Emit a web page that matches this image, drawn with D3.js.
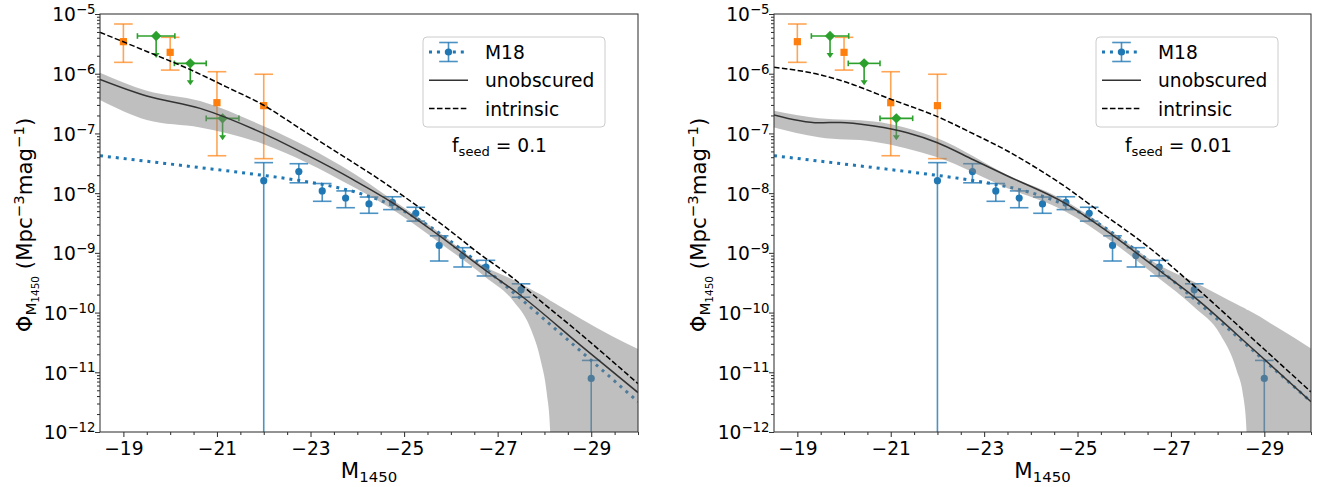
<!DOCTYPE html>
<html><head><meta charset="utf-8">
<script src="https://cdn.jsdelivr.net/npm/d3@7"></script>
<style>body{margin:0;background:#fff} text{font-family:"DejaVu Sans",sans-serif;fill:#000}</style>
</head><body><svg id="c" width="1333" height="487"></svg>
<script>
// ---------- tick labels ----------
const xTickVals = [-19, -21, -23, -25, -27, -29];
const yTickExps = [-5, -6, -7, -8, -9, -10, -11, -12];

// ---------- observational points (same in both panels) ----------
const orangeM = [-19.0, -20.0, -21.0, -22.0];
const orangePhi = [3.44e-6, 2.28e-6, 3.27e-7, 2.92e-7];
const orangeHi = [6.8e-6, 4.07e-6, 1.08e-6, 9.8e-7];
const orangeLo = [1.55e-6, 1.15e-6, 4.23e-8, 3.78e-8];

const greenM = [-19.70, -20.43, -21.12];
const greenPhi = [4.28e-6, 1.49e-6, 1.79e-7];
const greenXerr = [0.40, 0.34, 0.35];
const greenLimit = [1.83e-6, 6.38e-7, 7.66e-8];

const m18M = [-22.0, -22.75, -23.25, -23.75, -24.25, -24.75, -25.25, -25.75, -26.25, -26.75, -27.5, -29.0];
const m18Phi = [16.2e-9, 23.0e-9, 10.9e-9, 8.3e-9, 6.6e-9, 7.0e-9, 4.6e-9, 1.33e-9, 0.90e-9, 0.58e-9, 0.242e-9, 0.0079e-9];
const m18Err = [16.2e-9, 8.1e-9, 3.6e-9, 2.6e-9, 2.0e-9, 1.7e-9, 1.2e-9, 0.60e-9, 0.32e-9, 0.17e-9, 0.061e-9, 0.0079e-9];

const m18FitM = [-18.5, -19.5, -20.5, -21.5, -22.5, -23.0, -23.5, -24.0, -24.5, -25.0, -25.5, -26.0, -26.5, -27.0, -27.5, -28.0, -28.5, -29.0, -29.5, -30.0];
const m18FitPhi = [4.23e-8, 3.42e-8, 2.76e-8, 2.22e-8, 1.75e-8, 1.52e-8, 1.28e-8, 1.02e-8, 7.53e-9, 4.97e-9, 2.92e-9, 1.55e-9, 7.67e-10, 3.64e-10, 1.68e-10, 7.69e-11, 3.49e-11, 1.58e-11, 7.14e-12, 3.22e-12];

// ---------- model, f_seed = 0.1 ----------
const bandM01 = [-18.5, -19.5, -20.64, -21.99, -22.92, -23.9, -24.6, -25.73, -26.73, -27.33, -27.69, -27.92, -28.05, -28.12, -28.15, -28.76, -29.47, -30.0];
const bandHi01 = [1.04e-6, 5.20e-7, 3.49e-7, 1.33e-7, 6.00e-8, 2.19e-8, 9.33e-9, 2.26e-9, 5.86e-10, 3.55e-10, 2.51e-10, 2.00e-10, 1.73e-10, 1.60e-10, 1.55e-10, 8.00e-11, 3.94e-11, 2.45e-11];
const bandLo01 = [3.63e-7, 1.68e-7, 1.26e-7, 6.65e-8, 3.24e-8, 1.29e-8, 6.31e-9, 1.54e-9, 3.98e-10, 1.58e-10, 5.75e-11, 1.58e-11, 4.47e-12, 1.12e-12, 1e-13, 1e-13, 1e-13, 1e-13];
const unobsM01 = [-18.5, -19.5, -20.64, -21.99, -22.92, -23.9, -24.73, -25.73, -26.73, -27.48, -28.76, -30.0];
const unobsPhi01 = [8.05e-7, 4.24e-7, 2.63e-7, 1.00e-7, 4.36e-8, 1.70e-8, 7.08e-9, 2.00e-9, 5.16e-10, 1.97e-10, 2.88e-11, 4.57e-12];
const intrM01 = [-18.5, -19.5, -20.42, -21.2, -21.99, -22.78, -23.49, -24.49, -25.3, -26.0, -26.55, -27.34, -28.0, -28.76, -29.4, -30.0];
const intrPhi01 = [4.93e-6, 2.36e-6, 1.18e-6, 6.03e-7, 2.99e-7, 1.20e-7, 5.27e-8, 1.66e-8, 5.93e-9, 2.29e-9, 1.05e-9, 3.72e-10, 1.38e-10, 4.47e-11, 1.66e-11, 6.46e-12];

// ---------- model, f_seed = 0.01 ----------
const bandM001 = [-18.5, -19.46, -20.64, -22.0, -23.5, -24.71, -25.74, -26.74, -27.49, -28.06, -28.4, -28.56, -28.62, -28.66, -29.3, -30.0];
const bandHi001 = [2.40e-7, 1.79e-7, 1.58e-7, 8.28e-8, 2.01e-8, 7.67e-9, 2.26e-9, 6.25e-10, 3.29e-10, 1.92e-10, 1.39e-10, 1.20e-10, 1.13e-10, 1.09e-10, 5.50e-11, 2.51e-11];
const bandLo001 = [1.26e-7, 8.61e-8, 7.28e-8, 3.98e-8, 1.21e-8, 5.08e-9, 1.54e-9, 3.74e-10, 1.25e-10, 4.27e-11, 1.12e-11, 3.55e-12, 1.0e-12, 1e-13, 1e-13, 1e-13];
const unobsM001 = [-18.5, -19.46, -19.93, -20.64, -21.355, -22.0, -22.78, -23.5, -24.71, -25.74, -26.74, -27.49, -28.78, -30.0];
const unobsPhi001 = [2.04e-7, 1.51e-7, 1.53e-7, 1.33e-7, 1.03e-7, 7.00e-8, 3.59e-8, 1.94e-8, 6.92e-9, 2.00e-9, 5.16e-10, 1.85e-10, 2.36e-11, 3.21e-12];
const intrM001 = [-18.5, -19.5, -20.0, -20.99, -22.0, -22.78, -23.5, -24.21, -24.71, -25.28, -26.64, -27.49, -28.78, -30.0];
const intrPhi001 = [1.28e-6, 9.55e-7, 7.41e-7, 3.77e-7, 1.91e-7, 9.77e-8, 5.08e-8, 2.38e-8, 1.33e-8, 6.32e-9, 1.05e-9, 2.82e-10, 3.47e-11, 4.68e-12];

const legendLabels = ["M18", "unobscured", "intrinsic"];
const fseedLabels = ["0.1", "0.01"];

// ---------- styling ----------
const BLUE = "#1f77b4", ORANGE = "#ff7f0e", GREEN = "#2ca02c";
const FS = 18.67, FSL = 21.3;
const TOP = 14, BOTTOM = 432;

const panels = [
  {x0: 100, x1: 638, fseed: fseedLabels[0], bandM: bandM01, bandHi: bandHi01, bandLo: bandLo01,
   unM: unobsM01, unPhi: unobsPhi01, inM: intrM01, inPhi: intrPhi01},
  {x0: 774, x1: 1311, fseed: fseedLabels[1], bandM: bandM001, bandHi: bandHi001, bandLo: bandLo001,
   unM: unobsM001, unPhi: unobsPhi001, inM: intrM001, inPhi: intrPhi001}
];

const svg = d3.select("#c");
const y = d3.scaleLog().domain([1e-12, 1e-5]).range([BOTTOM, TOP]);
const zip = (a, b) => a.map((v, i) => [v, b[i]]);

panels.forEach((p, pi) => {
  const x = d3.scaleLinear().domain([-18.5, -30]).range([p.x0, p.x1]);
  const g = svg.append("g");
  const cid = "clip" + pi;
  svg.append("clipPath").attr("id", cid).append("rect")
    .attr("x", p.x0).attr("y", TOP).attr("width", p.x1 - p.x0).attr("height", BOTTOM - TOP);
  const plot = g.append("g").attr("clip-path", `url(#${cid})`);

  const line = d3.line().x(d => x(d[0])).y(d => y(d[1])).curve(d3.curveMonotoneX);

  // M18 fit (dotted)
  plot.append("path").attr("d", line(zip(m18FitM, m18FitPhi)))
    .attr("fill", "none").attr("stroke", BLUE).attr("stroke-width", 3).attr("stroke-dasharray", "3,4.95");

  const capW = 9.3;
  // orange squares with error bars
  orangeM.forEach((m, i) => {
    const cx = x(m);
    const eg = plot.append("g").attr("stroke", ORANGE).attr("stroke-opacity", 0.7).attr("stroke-width", 1.6);
    eg.append("line").attr("x1", cx).attr("x2", cx).attr("y1", y(orangeHi[i])).attr("y2", y(orangeLo[i]));
    [orangeHi[i], orangeLo[i]].forEach(v => eg.append("line").attr("x1", cx - capW).attr("x2", cx + capW).attr("y1", y(v)).attr("y2", y(v)));
    plot.append("rect").attr("x", cx - 3.6).attr("y", y(orangePhi[i]) - 3.6).attr("width", 7.2).attr("height", 7.2).attr("fill", ORANGE);
  });

  // green diamonds, upper limits
  greenM.forEach((m, i) => {
    const cx = x(m), cy = y(greenPhi[i]), ty = y(greenLimit[i]);
    const eg = plot.append("g").attr("stroke", GREEN).attr("stroke-width", 1.6);
    eg.append("line").attr("x1", x(m + greenXerr[i])).attr("x2", x(m - greenXerr[i])).attr("y1", cy).attr("y2", cy);
    [m + greenXerr[i], m - greenXerr[i]].forEach(v => eg.append("line").attr("x1", x(v)).attr("x2", x(v)).attr("y1", cy - 2.8).attr("y2", cy + 2.8));
    eg.append("line").attr("x1", cx).attr("x2", cx).attr("y1", cy).attr("y2", ty - 2);
    plot.append("path").attr("d", `M${cx - 3.5},${ty - 5}L${cx + 3.5},${ty - 5}L${cx},${ty}Z`).attr("fill", GREEN);
    plot.append("path").attr("d", `M${cx},${cy - 5.2}L${cx + 5.2},${cy}L${cx},${cy + 5.2}L${cx - 5.2},${cy}Z`).attr("fill", GREEN);
  });

  // M18 binned data
  m18M.forEach((m, i) => {
    const cx = x(m);
    const hi = m18Phi[i] + m18Err[i], lo = m18Phi[i] - m18Err[i];
    const yLo = lo > 0 ? y(lo) : BOTTOM + 20;
    const eg = plot.append("g").attr("stroke", BLUE).attr("stroke-opacity", 0.8).attr("stroke-width", 1.6);
    eg.append("line").attr("x1", cx).attr("x2", cx).attr("y1", y(hi)).attr("y2", yLo);
    eg.append("line").attr("x1", cx - capW).attr("x2", cx + capW).attr("y1", y(hi)).attr("y2", y(hi));
    if (lo > 0) eg.append("line").attr("x1", cx - capW).attr("x2", cx + capW).attr("y1", yLo).attr("y2", yLo);
    plot.append("circle").attr("cx", cx).attr("cy", y(m18Phi[i])).attr("r", 3.6).attr("fill", BLUE);
  });

  // shaded band
  const area = d3.area().x(d => x(d[0])).y0(d => y(d[1])).y1(d => y(d[2])).curve(d3.curveMonotoneX);
  plot.append("path").attr("d", area(p.bandM.map((m, i) => [m, p.bandLo[i], p.bandHi[i]])))
    .attr("fill", "#808080").attr("fill-opacity", 0.5);

  // unobscured & intrinsic
  plot.append("path").attr("d", line(zip(p.unM, p.unPhi)))
    .attr("fill", "none").attr("stroke", "#333").attr("stroke-width", 1.5);
  plot.append("path").attr("d", line(zip(p.inM, p.inPhi)))
    .attr("fill", "none").attr("stroke", "#000").attr("stroke-width", 1.5).attr("stroke-dasharray", "5.55,2.4");

  // axes
  const majY = yTickExps.map(e => Math.pow(10, e));
  const minY = [];
  for (let e = -12; e < -5; e++) for (let k = 2; k <= 9; k++) minY.push(k * Math.pow(10, e));
  const ax = g.append("g").attr("transform", `translate(${p.x0},0)`);
  ax.call(d3.axisLeft(y).tickValues(majY).tickSize(5).tickFormat(""));
  ax.call(g2 => g2.select(".domain").remove());
  const axm = g.append("g").attr("transform", `translate(${p.x0},0)`);
  axm.call(d3.axisLeft(y).tickValues(minY).tickSize(3).tickFormat(""));
  axm.select(".domain").remove();
  g.selectAll(".tick line").attr("stroke", "#333").attr("stroke-width", 1.05);

  yTickExps.forEach(e => {
    const t = g.append("text").attr("x", p.x0 - 4.5).attr("y", y(Math.pow(10, e)) + 7.4)
      .attr("text-anchor", "end").attr("font-size", FS).text("10");
    t.append("tspan").attr("dy", -7.2).attr("font-size", 13.3).text("\u2212" + Math.abs(e));
  });

  const minX = d3.range(-19, -30.01, -0.5).filter(v => !xTickVals.includes(v));
  const bx = g.append("g").attr("transform", `translate(0,${BOTTOM})`);
  bx.call(d3.axisBottom(x).tickValues(xTickVals).tickSize(5).tickPadding(4.5).tickFormat(d => "\u2212" + Math.abs(d)));
  bx.select(".domain").remove();
  bx.selectAll("text").attr("font-size", FS).attr("font-family", "DejaVu Sans").attr("fill", "#000");
  bx.selectAll("line").attr("stroke", "#333").attr("stroke-width", 1.05);
  const bxm = g.append("g").attr("transform", `translate(0,${BOTTOM})`);
  bxm.call(d3.axisBottom(x).tickValues(minX).tickSize(3).tickFormat(""));
  bxm.select(".domain").remove();
  bxm.selectAll("line").attr("stroke", "#333").attr("stroke-width", 1.05);

  // frame
  g.append("rect").attr("x", p.x0).attr("y", TOP).attr("width", p.x1 - p.x0).attr("height", BOTTOM - TOP)
    .attr("fill", "none").attr("stroke", "#333").attr("stroke-width", 1.05);

  // x label
  const xl = g.append("text").attr("x", (p.x0 + p.x1) / 2).attr("y", 478).attr("text-anchor", "middle").attr("font-size", FSL).text("M");
  xl.append("tspan").attr("dy", 3.6).attr("font-size", 14.9).text("1450");

  // y label
  const yl = g.append("text").attr("transform", `translate(${p.x0 - 68},225) rotate(-90)`)
    .attr("text-anchor", "middle").attr("font-size", FSL).text("\u03a6");
  yl.append("tspan").attr("dy", 4).attr("font-size", 14.9).text("M");
  yl.append("tspan").attr("dy", 2.6).attr("font-size", 10.5).text("1450");
  yl.append("tspan").attr("dy", -6.6).attr("font-size", FSL).text("\u00a0(Mpc");
  yl.append("tspan").attr("dy", -8.5).attr("font-size", 14.9).text("\u22123");
  yl.append("tspan").attr("dy", 8.5).attr("font-size", FSL).text("mag");
  yl.append("tspan").attr("dy", -8.5).attr("font-size", 14.9).text("\u22121");
  yl.append("tspan").attr("dy", 8.5).attr("font-size", FSL).text(")");

  // legend
  const lx = p.x1 - 215, ly = 37;
  const lg = g.append("g");
  lg.append("rect").attr("x", lx).attr("y", ly).attr("width", 182).attr("height", 90).attr("rx", 4)
    .attr("fill", "#fff").attr("fill-opacity", 0.8).attr("stroke", "#ccc").attr("stroke-width", 1);
  const rows = [52, 80.3, 108.6];
  const hx0 = lx + 6, hx1 = lx + 45, hc = (hx0 + hx1) / 2;
  lg.append("line").attr("x1", hx0).attr("x2", hx1).attr("y1", rows[0]).attr("y2", rows[0])
    .attr("stroke", BLUE).attr("stroke-width", 3).attr("stroke-dasharray", "3,4.95");
  const le = lg.append("g").attr("stroke", BLUE).attr("stroke-opacity", 0.8).attr("stroke-width", 1.6);
  le.append("line").attr("x1", hc).attr("x2", hc).attr("y1", rows[0] - 9.5).attr("y2", rows[0] + 9.5);
  le.append("line").attr("x1", hc - capW).attr("x2", hc + capW).attr("y1", rows[0] - 9.5).attr("y2", rows[0] - 9.5);
  le.append("line").attr("x1", hc - capW).attr("x2", hc + capW).attr("y1", rows[0] + 9.5).attr("y2", rows[0] + 9.5);
  lg.append("circle").attr("cx", hc).attr("cy", rows[0]).attr("r", 3.6).attr("fill", BLUE);
  lg.append("line").attr("x1", hx0).attr("x2", hx1).attr("y1", rows[1]).attr("y2", rows[1]).attr("stroke", "#333").attr("stroke-width", 1.5);
  lg.append("line").attr("x1", hx0).attr("x2", hx1).attr("y1", rows[2]).attr("y2", rows[2]).attr("stroke", "#000").attr("stroke-width", 1.5).attr("stroke-dasharray", "5.55,2.4");
  legendLabels.forEach((t, i) => lg.append("text").attr("x", lx + 62).attr("y", rows[i] + 7).attr("font-size", FS).text(t));

  // f_seed annotation
  const ft = g.append("text").attr("x", lx + 29).attr("y", 152).attr("font-size", FS).text("f");
  ft.append("tspan").attr("dy", 3.5).attr("font-size", 13.1).text("seed");
  ft.append("tspan").attr("dy", -3.5).attr("font-size", FS).text("\u00a0=\u00a0" + p.fseed);
});
</script></body></html>
